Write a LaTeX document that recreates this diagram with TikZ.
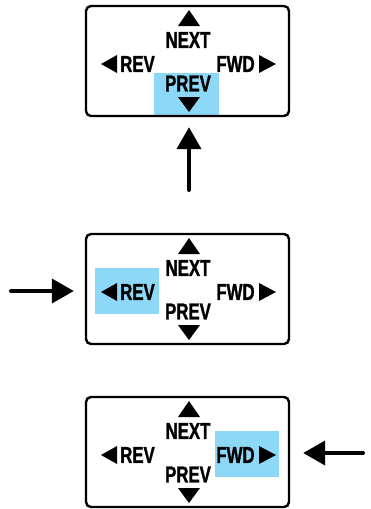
\documentclass[tikz,border=0pt]{standalone}
\usepackage{fontspec}
\newfontfamily\keyfont[FakeStretch=0.73, FakeBold=1.2]{Liberation Sans}
\usetikzlibrary{arrows.meta}
\definecolor{HiBlue}{RGB}{142,216,247}
\tikzset{
  panel/.style={draw, line width=2.4pt, rounded corners=5pt, minimum width=203pt, minimum height=110pt, inner sep=0pt},
  keylabel/.style={font=\keyfont\bfseries\fontsize{23}{23}\selectfont, inner sep=0pt},
  bigarrow/.style={-{Triangle[length=22pt,width=24pt]}, line width=4pt, line cap=round}
}

\begin{document}
\begin{tikzpicture}[x=1pt, y=-1pt]
        \useasboundingbox (0,0) rectangle (370,509);
        % highlighted keys
        \fill[HiBlue] (154,73) rectangle (219,117);
        \fill[HiBlue] (95,268) rectangle (159,314);
        \fill[HiBlue] (215,431) rectangle (279,477);
        % the three panels
        \foreach \dy/\p in {0/top,228/mid,391/bot}{
          \begin{scope}[shift={(0,\dy)}]
            \node[panel] (panel-\p) at (187.5,61) {};
            \fill (178,26) -- (200,26) -- (189,10) -- cycle;
            \fill (178,97) -- (200,97) -- (189,112) -- cycle;
            \fill (117,55) -- (117,73) -- (101,64) -- cycle;
            \fill (259,55) -- (259,73) -- (276,64) -- cycle;
            \node[keylabel] (next-\p) at (188,40) {NEXT};
            \node[keylabel] (rev-\p) at (137.5,64) {REV};
            \node[keylabel] (fwd-\p) at (235.5,64) {FWD};
            \node[keylabel] (prev-\p) at (188,83.5) {PREV};
          \end{scope}
        }
        % arrows
        \coordinate (upTail) at (189,190);
        \coordinate (leftTail) at (11,291);
        \coordinate (rightTail) at (363,453);
        \draw[bigarrow, shorten >=10pt] (upTail) -- (upTail |- panel-top.south);
        \draw[bigarrow, shorten >=11pt] (leftTail) -- (leftTail -| panel-mid.west);
        \draw[bigarrow, shorten >=13pt] (rightTail) -- (rightTail -| panel-bot.east);
      \end{tikzpicture}
\end{document}
